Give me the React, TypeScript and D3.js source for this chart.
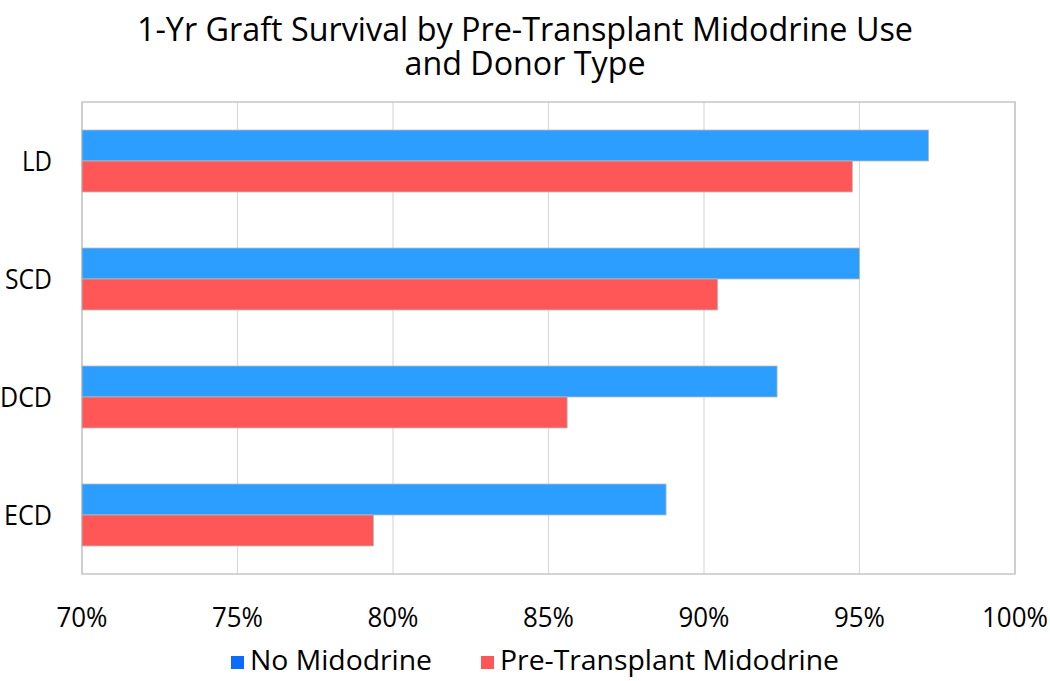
import React from "react";
import * as d3 from "d3";

const categories = ["LD", "SCD", "DCD", "ECD"];
const seriesNames = ["No Midodrine", "Pre-Transplant Midodrine"];
const noMidodrine = [0.9722, 0.95, 0.9235, 0.8878];
const preTransplantMidodrine = [0.9477, 0.9044, 0.856, 0.7937];
const xTicks = [0.7, 0.75, 0.8, 0.85, 0.9, 0.95, 1.0];
const titleLines = ["1-Yr Graft Survival by Pre-Transplant Midodrine Use", "and Donor Type"];

const W = 1050;
const H = 681;
const plot = { left: 82, right: 1015, top: 102, bottom: 574 };
const barColors = ["#2B9EFF", "#FF5757"];
const legendColors = ["#0A6CFF", "#FF5757"];
const FONT = "'Open Sans', 'Liberation Sans', sans-serif";

// approximate rendered widths of the labels in the reference (narrow font)
const yLabelWidth: Record<string, number> = { LD: 30, SCD: 47, DCD: 52, ECD: 48 };

export default function App() {
  const x = d3.scaleLinear().domain([0.7, 1.0]).range([plot.left, plot.right]);
  const y = d3
    .scaleBand<string>()
    .domain(categories)
    .range([plot.top, plot.bottom])
    .paddingInner(0.475)
    .paddingOuter(0.2375);
  const sub = d3.scaleBand<number>().domain([0, 1]).range([0, y.bandwidth()]);
  const series = [noMidodrine, preTransplantMidodrine];
  const fmt = d3.format(".0%");

  return (
    <svg
      width={W}
      height={H}
      style={{ position: "absolute", left: 0, top: 0, background: "#fff" }}
      fontFamily={FONT}
    >
      <rect x={0} y={0} width={W} height={H} fill="#fff" />
      {/* title */}
      <text x={525} y={41} textAnchor="middle" fontSize={33} fill="#000" textLength={776} lengthAdjust="spacingAndGlyphs">
        {titleLines[0]}
      </text>
      <text x={525} y={75} textAnchor="middle" fontSize={33} fill="#000" textLength={241} lengthAdjust="spacingAndGlyphs">
        {titleLines[1]}
      </text>

      {/* gridlines */}
      {xTicks.map((t) => (
        <line key={"g" + t} x1={x(t)} x2={x(t)} y1={plot.top} y2={plot.bottom} stroke="#d9d9d9" strokeWidth={1.2} />
      ))}
      <rect
        x={plot.left}
        y={plot.top}
        width={plot.right - plot.left}
        height={plot.bottom - plot.top}
        fill="none"
        stroke="#c6c6c6"
        strokeWidth={1.5}
      />

      {/* bars */}
      {categories.map((c, i) => (
        <g key={c}>
          {series.map((s, j) => (
            <rect
              key={j}
              x={x(0.7)}
              y={(y(c) as number) + (sub(j) as number)}
              width={x(s[i]) - x(0.7)}
              height={sub.bandwidth()}
              fill={barColors[j]}
              stroke="#b8b8b8"
              strokeWidth={0.8}
            />
          ))}
        </g>
      ))}

      {/* y labels */}
      {categories.map((c) => (
        <text
          key={"yl" + c}
          x={52}
          y={(y(c) as number) + y.bandwidth() / 2 + 9.5}
          textAnchor="end"
          fontSize={27}
          fill="#000"
          textLength={yLabelWidth[c]}
          lengthAdjust="spacingAndGlyphs"
        >
          {c}
        </text>
      ))}

      {/* x tick labels */}
      {xTicks.map((t) => {
        const label = fmt(t);
        return (
          <text
            key={"xl" + t}
            x={x(t)}
            y={627}
            textAnchor="middle"
            fontSize={27}
            fill="#000"
            textLength={label.length > 3 ? 66 : 51}
            lengthAdjust="spacingAndGlyphs"
          >
            {label}
          </text>
        );
      })}

      {/* legend */}
      <rect x={231} y={656} width={13} height={13} fill={legendColors[0]} />
      <text x={250} y={670} fontSize={28} fill="#000" textLength={182} lengthAdjust="spacingAndGlyphs">
        {seriesNames[0]}
      </text>
      <rect x={481} y={656} width={13} height={13} fill={legendColors[1]} />
      <text x={500} y={670} fontSize={28} fill="#000" textLength={339} lengthAdjust="spacingAndGlyphs">
        {seriesNames[1]}
      </text>
    </svg>
  );
}
